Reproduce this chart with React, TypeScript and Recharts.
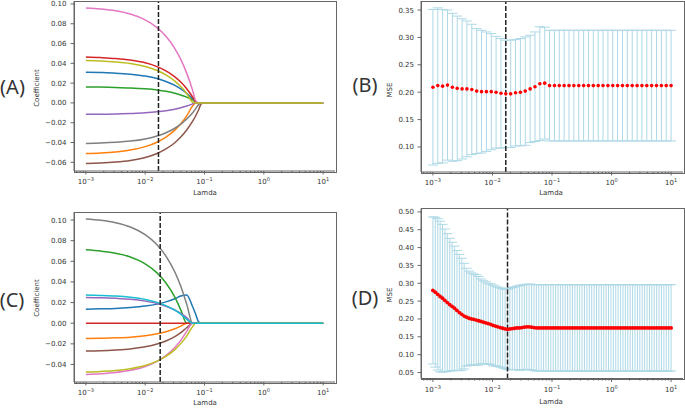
import React from "react";
import {
  LineChart,
  ComposedChart,
  Line,
  XAxis,
  YAxis,
  ErrorBar,
  ReferenceLine,
} from "recharts";

// lambda is kept as log10(lambda) so the axis can be linear in decades
const pathLogLambda = [-3, -2.75, -2.5, -2.25, -2, -1.8, -1.65, -1.5, -1.4, -1.3, -1.2, -1.15, -1.1, -1.05, -1, 0, 1];

// (A) coefficient paths, one array per feature
const coefA1 = [0.0311, 0.0307, 0.0301, 0.029, 0.0271, 0.0246, 0.0217, 0.0177, 0.0141, 0.0096, 0.004, 0.0006, 0, 0, 0, 0, 0];
const coefA2 = [-0.0512, -0.0506, -0.0495, -0.0476, -0.0442, -0.0397, -0.0346, -0.0275, -0.0211, -0.0131, -0.003, 0, 0, 0, 0, 0, 0];
const coefA3 = [0.0162, 0.016, 0.0157, 0.0152, 0.0143, 0.0131, 0.0117, 0.0098, 0.008, 0.0059, 0.0031, 0.0015, 0, 0, 0, 0, 0];
const coefA4 = [0.0464, 0.0458, 0.0449, 0.0433, 0.0405, 0.0367, 0.0324, 0.0264, 0.0211, 0.0144, 0.006, 0.001, 0, 0, 0, 0, 0];
const coefA5 = [-0.0115, -0.0114, -0.0112, -0.0107, -0.01, -0.009, -0.0079, -0.0063, -0.0049, -0.0032, -0.001, 0, 0, 0, 0, 0, 0];
const coefA6 = [-0.0613, -0.0608, -0.0598, -0.0581, -0.0551, -0.0511, -0.0465, -0.0402, -0.0345, -0.0274, -0.0185, -0.0132, -0.0072, -0.0005, 0, 0, 0];
const coefA7 = [0.096, 0.0949, 0.0931, 0.0898, 0.0839, 0.0761, 0.0673, 0.0549, 0.044, 0.0301, 0.0127, 0.0024, 0, 0, 0, 0, 0];
const coefA8 = [-0.0409, -0.0405, -0.0398, -0.0386, -0.0364, -0.0335, -0.0302, -0.0256, -0.0215, -0.0163, -0.0099, -0.006, -0.0017, 0, 0, 0, 0];
const coefA9 = [0.0429, 0.0424, 0.0414, 0.0398, 0.0368, 0.0328, 0.0284, 0.0221, 0.0165, 0.0095, 0.0007, 0, 0, 0, 0, 0, 0];

// (C) coefficient paths
const coefC1 = [0.0136, 0.0139, 0.0143, 0.0152, 0.0166, 0.0185, 0.0207, 0.0237, 0.0264, 0.0274, 0.0159, 0.009, 0.0014, 0, 0, 0, 0];
const coefC2 = [-0.0149, -0.0146, -0.0142, -0.0135, -0.0121, -0.0103, -0.0083, -0.0054, -0.0029, 0, 0, 0, 0, 0, 0, 0, 0];
const coefC3 = [0.0711, 0.0699, 0.0679, 0.0642, 0.0576, 0.0488, 0.039, 0.0252, 0.0129, 0, 0, 0, 0, 0, 0, 0, 0];
const coefC4 = [0, 0, 0, 0, 0, 0, 0, 0, 0, 0, 0, 0, 0, 0, 0, 0, 0];
const coefC5 = [0.025, 0.0247, 0.0241, 0.0232, 0.0214, 0.0191, 0.0164, 0.0128, 0.0095, 0.0054, 0.0002, 0, 0, 0, 0, 0, 0];
const coefC6 = [-0.027, -0.0267, -0.026, -0.0249, -0.0229, -0.0202, -0.0172, -0.013, -0.0092, -0.0044, 0, 0, 0, 0, 0, 0, 0];
const coefC7 = [-0.0497, -0.049, -0.0478, -0.0457, -0.042, -0.037, -0.0315, -0.0236, -0.0167, -0.0079, 0, 0, 0, 0, 0, 0, 0];
const coefC8 = [0.101, 0.0997, 0.0974, 0.0933, 0.0859, 0.0761, 0.0651, 0.0496, 0.0358, 0.0185, 0, 0, 0, 0, 0, 0, 0];
const coefC9 = [-0.0474, -0.0468, -0.0459, -0.0441, -0.041, -0.0368, -0.0322, -0.0256, -0.0198, -0.0125, -0.0033, 0, 0, 0, 0, 0, 0];
const coefC10 = [0.0273, 0.0269, 0.0263, 0.0251, 0.023, 0.0202, 0.0171, 0.0126, 0.0087, 0.0037, 0, 0, 0, 0, 0, 0, 0];

// (B) cross-validation, 50 lambdas
const logLambdaB = [
  -3.0, -2.918, -2.837, -2.755, -2.673, -2.592, -2.51, -2.429, -2.347, -2.265,
  -2.184, -2.102, -2.02, -1.939, -1.857, -1.776, -1.694, -1.612, -1.531, -1.449,
  -1.367, -1.286, -1.204, -1.122, -1.041, -0.959, -0.878, -0.796, -0.714, -0.633,
  -0.551, -0.469, -0.388, -0.306, -0.224, -0.143, -0.061, 0.02, 0.102, 0.184,
  0.265, 0.347, 0.429, 0.51, 0.592, 0.673, 0.755, 0.837, 0.918, 1.0,
];
const mseB = [
  0.209, 0.212, 0.211, 0.213, 0.209, 0.207, 0.206, 0.206, 0.205, 0.202,
  0.201, 0.201, 0.201, 0.2, 0.198, 0.197, 0.197, 0.199, 0.2, 0.202,
  0.206, 0.21, 0.2155, 0.2165, 0.212, 0.212, 0.212, 0.212, 0.212, 0.212,
  0.212, 0.212, 0.212, 0.212, 0.212, 0.212, 0.212, 0.212, 0.212, 0.212,
  0.212, 0.212, 0.212, 0.212, 0.212, 0.212, 0.212, 0.212, 0.212, 0.212,
];
const errB = [
  0.142, 0.142, 0.14, 0.137, 0.135, 0.132, 0.128, 0.124, 0.119, 0.114,
  0.112, 0.109, 0.106, 0.102, 0.1, 0.098, 0.098, 0.097, 0.098, 0.099,
  0.098, 0.1, 0.104, 0.102, 0.101, 0.101, 0.101, 0.101, 0.101, 0.101,
  0.101, 0.101, 0.101, 0.101, 0.101, 0.101, 0.101, 0.101, 0.101, 0.101,
  0.101, 0.101, 0.101, 0.101, 0.101, 0.101, 0.101, 0.101, 0.101, 0.101,
];

// (D) cross-validation, 100 lambdas
const logLambdaD = [
  -3.0, -2.96, -2.919, -2.879, -2.838, -2.798, -2.758, -2.717, -2.677, -2.636,
  -2.596, -2.556, -2.515, -2.475, -2.434, -2.394, -2.354, -2.313, -2.273, -2.232,
  -2.192, -2.152, -2.111, -2.071, -2.03, -1.99, -1.949, -1.909, -1.869, -1.828,
  -1.788, -1.747, -1.707, -1.667, -1.626, -1.586, -1.545, -1.505, -1.465, -1.424,
  -1.384, -1.343, -1.303, -1.263, -1.222, -1.182, -1.141, -1.101, -1.061, -1.02,
  -0.98, -0.939, -0.899, -0.859, -0.818, -0.778, -0.737, -0.697, -0.657, -0.616,
  -0.576, -0.535, -0.495, -0.455, -0.414, -0.374, -0.333, -0.293, -0.253, -0.212,
  -0.172, -0.131, -0.091, -0.051, -0.01, 0.03, 0.071, 0.111, 0.152, 0.192,
  0.232, 0.273, 0.313, 0.354, 0.394, 0.434, 0.475, 0.515, 0.556, 0.596,
  0.636, 0.677, 0.717, 0.758, 0.798, 0.838, 0.879, 0.919, 0.96, 1.0,
];
const mseD = [
  0.28, 0.275, 0.269, 0.263, 0.258, 0.252, 0.246, 0.24, 0.235, 0.23,
  0.224, 0.218, 0.213, 0.208, 0.205, 0.202, 0.2, 0.199, 0.197, 0.195,
  0.193, 0.191, 0.189, 0.187, 0.185, 0.182, 0.18, 0.178, 0.176, 0.174,
  0.172, 0.171, 0.172, 0.173, 0.174, 0.175, 0.175, 0.176, 0.177, 0.178,
  0.178, 0.177, 0.176, 0.175, 0.175, 0.175, 0.175, 0.175, 0.175, 0.175,
  0.175, 0.175, 0.175, 0.175, 0.175, 0.175, 0.175, 0.175, 0.175, 0.175,
  0.175, 0.175, 0.175, 0.175, 0.175, 0.175, 0.175, 0.175, 0.175, 0.175,
  0.175, 0.175, 0.175, 0.175, 0.175, 0.175, 0.175, 0.175, 0.175, 0.175,
  0.175, 0.175, 0.175, 0.175, 0.175, 0.175, 0.175, 0.175, 0.175, 0.175,
  0.175, 0.175, 0.175, 0.175, 0.175, 0.175, 0.175, 0.175, 0.175, 0.175,
];
const errD = [
  0.206, 0.21, 0.212, 0.211, 0.207, 0.2, 0.193, 0.186, 0.18, 0.174,
  0.168, 0.163, 0.157, 0.148, 0.137, 0.132, 0.129, 0.127, 0.127, 0.124,
  0.119, 0.116, 0.115, 0.113, 0.113, 0.113, 0.112, 0.111, 0.111, 0.111,
  0.111, 0.113, 0.114, 0.115, 0.116, 0.117, 0.119, 0.119, 0.119, 0.119,
  0.12, 0.12, 0.12, 0.121, 0.121, 0.121, 0.121, 0.121, 0.121, 0.121,
  0.121, 0.121, 0.121, 0.121, 0.121, 0.121, 0.121, 0.121, 0.121, 0.121,
  0.121, 0.121, 0.121, 0.121, 0.121, 0.121, 0.121, 0.121, 0.121, 0.121,
  0.121, 0.121, 0.121, 0.121, 0.121, 0.121, 0.121, 0.121, 0.121, 0.121,
  0.121, 0.121, 0.121, 0.121, 0.121, 0.121, 0.121, 0.121, 0.121, 0.121,
  0.121, 0.121, 0.121, 0.121, 0.121, 0.121, 0.121, 0.121, 0.121, 0.121,
];

// chosen lambda (dashed line), log10
const bestLogLambdaTop = -1.776;
const bestLogLambdaBottom = -1.747;

// tick values
const majorExps = [-3, -2, -1, 0, 1];
const ticksCoefA = [-0.06, -0.04, -0.02, 0, 0.02, 0.04, 0.06, 0.08, 0.1];
const ticksCoefC = [-0.04, -0.02, 0, 0.02, 0.04, 0.06, 0.08, 0.1];
const ticksMseB = [0.1, 0.15, 0.2, 0.25, 0.3, 0.35];
const ticksMseD = [0.05, 0.1, 0.15, 0.2, 0.25, 0.3, 0.35, 0.4, 0.45, 0.5];

const tab10 = ["#1f77b4", "#ff7f0e", "#2ca02c", "#d62728", "#9467bd", "#8c564b", "#e377c2", "#7f7f7f", "#bcbd22", "#17becf"];

const xDomain: [number, number] = [-3.2, 1.2];
const minorTicks: number[] = [];
for (let d = -4; d <= 1; d++) {
  for (let k = 2; k <= 9; k++) {
    const v = d + Math.log10(k);
    if (v > xDomain[0] && v < xDomain[1]) minorTicks.push(v);
  }
}
const xTicks = [...majorExps, ...minorTicks];

const FONT = "DejaVu Sans, sans-serif";
const SPINE = { stroke: "#666", strokeWidth: 1 };

const fmtY = (v: number) => (v < 0 ? "\u2212" : "") + Math.abs(v).toFixed(2);

const LogTick = (props: any) => {
  const { x, y, payload } = props;
  const v = payload.value;
  const major = Math.abs(v - Math.round(v)) < 1e-6;
  const e = Math.round(v);
  return (
    <g>
      <line x1={x} x2={x} y1={y} y2={y + (major ? 3.5 : 2)} stroke="#444" strokeWidth={0.8} />
      {major && (
        <text x={x} y={y + 13} textAnchor="middle" fontSize={7} fill="#333" fontFamily={FONT}>
          10
          <tspan dy={-3} fontSize={5}>
            {e < 0 ? "\u2212" + -e : String(e)}
          </tspan>
        </text>
      )}
    </g>
  );
};

const buildPathRows = (cols: number[][]) =>
  pathLogLambda.map((x, i) => {
    const row: any = { x };
    cols.forEach((c, j) => (row["f" + j] = c[i]));
    return row;
  });

const rowsA = buildPathRows([coefA1, coefA2, coefA3, coefA4, coefA5, coefA6, coefA7, coefA8, coefA9]);
const rowsC = buildPathRows([coefC1, coefC2, coefC3, coefC4, coefC5, coefC6, coefC7, coefC8, coefC9, coefC10]);
const rowsB = logLambdaB.map((x, i) => ({ x, mse: mseB[i], err: errB[i] }));
const rowsD = logLambdaD.map((x, i) => ({ x, mse: mseD[i], err: errD[i] }));

const axes = (yDomain: number[], yTicks: number[], yWidth: number, xHeight: number, tickGap: number) => [
  <XAxis
    key="x"
    type="number"
    dataKey="x"
    domain={xDomain}
    allowDataOverflow
    ticks={xTicks}
    interval={0}
    tick={LogTick}
    tickLine={false}
    tickSize={0}
    tickMargin={0}
    axisLine={SPINE}
    height={xHeight}
  />,
  <YAxis
    key="y"
    type="number"
    domain={yDomain}
    allowDataOverflow
    ticks={yTicks}
    interval={0}
    tickFormatter={fmtY}
    tick={{ fontSize: 7, fill: "#333", fontFamily: FONT }}
    tickSize={3.5}
    tickMargin={tickGap}
    tickLine={{ stroke: "#444", strokeWidth: 0.8 }}
    axisLine={SPINE}
    width={yWidth}
  />,
];

const PathPanel = ({ rows, count, yDomain, yTicks, cutoff, width, height, margin, xAxisHeight }: any) => (
  <LineChart width={width} height={height} data={rows} margin={margin}>
    {axes(yDomain, yTicks, 74, xAxisHeight, 4)}
    {Array.from({ length: count }).map((_, j) => (
      <Line
        key={j}
        type="monotone"
        dataKey={"f" + j}
        stroke={tab10[j]}
        strokeWidth={1.5}
        dot={false}
        isAnimationActive={false}
      />
    ))}
    <ReferenceLine x={cutoff} stroke="#222" strokeWidth={1.5} strokeDasharray="5 2" />
  </LineChart>
);

const CvPanel = ({ rows, yDomain, yTicks, cutoff, width, height, margin, xAxisHeight, dotR }: any) => (
  <ComposedChart width={width} height={height} data={rows} margin={margin}>
    {axes(yDomain, yTicks, 81, xAxisHeight, 3.5)}
    <Line
      dataKey="mse"
      stroke="none"
      dot={{ r: dotR, fill: "#ff0000", stroke: "none" }}
      isAnimationActive={false}
    >
      <ErrorBar dataKey="err" width={5} stroke="#add8e6" strokeWidth={1} direction="y" />
    </Line>
    <ReferenceLine x={cutoff} stroke="#222" strokeWidth={1.5} strokeDasharray="5 2" />
  </ComposedChart>
);

// plot-area frame (matplotlib draws all four spines)
const Frame = ({ left, top, width, height }: any) => (
  <div
    style={{
      position: "absolute",
      left: left - 0.5,
      top: top - 0.5,
      width: width,
      height: height,
      border: "1px solid #666",
      pointerEvents: "none",
    }}
  />
);

const Txt = ({ x, y, size = 7, rotate = false, family = FONT, children }: any) => (
  <div
    style={{
      position: "absolute",
      left: x,
      top: y,
      transform: `translate(-50%, -50%)${rotate ? " rotate(-90deg)" : ""}`,
      fontSize: size,
      lineHeight: 1,
      whiteSpace: "nowrap",
      color: "#333",
      fontFamily: family,
    }}
  >
    {children}
  </div>
);

export default function App() {
  return (
    <div style={{ position: "absolute", left: 0, top: 0, width: 685, height: 409, background: "#fff", overflow: "hidden" }}>
      <div style={{ position: "absolute", left: 0, top: 0 }}>
        <PathPanel
          rows={rowsA}
          count={9}
          yDomain={[-0.0688, 0.103]}
          yTicks={ticksCoefA}
          cutoff={bestLogLambdaTop}
          width={340}
          height={200}
          margin={{ top: 1, right: 5, bottom: 0, left: 0 }}
          xAxisHeight={29}
        />
      </div>
      <div style={{ position: "absolute", left: 340, top: 0 }}>
        <CvPanel
          rows={rowsB}
          yDomain={[0.0543, 0.3665]}
          yTicks={ticksMseB}
          cutoff={bestLogLambdaTop}
          width={345}
          height={200}
          margin={{ top: 1, right: 2, bottom: 0, left: 0 }}
          xAxisHeight={28}
          dotR={1.8}
        />
      </div>
      <div style={{ position: "absolute", left: 0, top: 205 }}>
        <PathPanel
          rows={rowsC}
          count={10}
          yDomain={[-0.057, 0.1078]}
          yTicks={ticksCoefC}
          cutoff={bestLogLambdaBottom}
          width={340}
          height={204}
          margin={{ top: 7, right: 5, bottom: 0, left: 0 }}
          xAxisHeight={27}
        />
      </div>
      <div style={{ position: "absolute", left: 340, top: 205 }}>
        <CvPanel
          rows={rowsD}
          yDomain={[0.0332, 0.5095]}
          yTicks={ticksMseD}
          cutoff={bestLogLambdaBottom}
          width={345}
          height={204}
          margin={{ top: 3.5, right: 2, bottom: 0, left: 0 }}
          xAxisHeight={30.5}
          dotR={1.9}
        />
      </div>

      <Frame left={74} top={1} width={261} height={170} />
      <Frame left={421} top={1} width={262} height={171} />
      <Frame left={74} top={212} width={261} height={170} />
      <Frame left={421} top={208.5} width={262} height={170} />

      <Txt x={12.5} y={87} size={20} family="Noto Sans, sans-serif">(A)</Txt>
      <Txt x={365} y={85} size={20} family="Noto Sans, sans-serif">(B)</Txt>
      <Txt x={12} y={300} size={20} family="Noto Sans, sans-serif">(C)</Txt>
      <Txt x={365} y={298} size={20} family="Noto Sans, sans-serif">(D)</Txt>

      <Txt x={36.5} y={88} rotate>Coefficient</Txt>
      <Txt x={390} y={90} rotate>MSE</Txt>
      <Txt x={36.5} y={298} rotate>Coefficient</Txt>
      <Txt x={390} y={295} rotate>MSE</Txt>

      <Txt x={205} y={193}>Lamda</Txt>
      <Txt x={551} y={193}>Lamda</Txt>
      <Txt x={205} y={403}>Lamda</Txt>
      <Txt x={551} y={401.5}>Lamda</Txt>
    </div>
  );
}
